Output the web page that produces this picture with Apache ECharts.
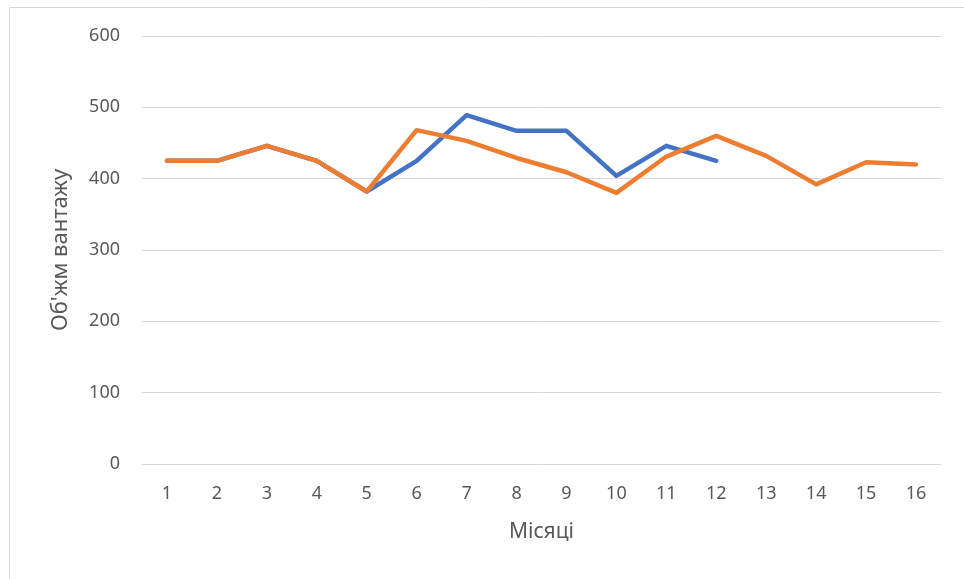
<!DOCTYPE html>
<html>
<head>
<meta charset="utf-8">
<script src="https://cdn.jsdelivr.net/npm/echarts@6/dist/echarts.min.js"></script>
<style>html,body{margin:0;padding:0;background:#fff}#c{width:964px;height:579px}</style>
</head>
<body>
<div id="c"></div>
<script>
var months = ['1','2','3','4','5','6','7','8','9','10','11','12','13','14','15','16'];
var seriesBlue = [425, 425, 446, 425, 382, 425, 489, 467, 467, 404, 446, 425];
var seriesOrange = [425, 425, 446, 425, 382, 468, 453, 429, 409, 380, 431, 460, 432, 392, 423, 420];
var yTicks = { min: 0, max: 600, interval: 100 };

var chart = echarts.init(document.getElementById('c'));
chart.setOption({
  animation: false,
  backgroundColor: '#fff',
  graphic: [{
    type: 'rect', silent: true,
    shape: { x: 9.5, y: 7.5, width: 1000, height: 600 },
    style: { fill: 'none', stroke: '#d9d9d9', lineWidth: 1 }
  }],
  grid: { left: 142, right: 23, top: 36, bottom: 115 },
  xAxis: {
    type: 'category',
    data: months,
    boundaryGap: true,
    name: 'Місяці',
    nameLocation: 'middle',
    nameGap: 58,
    nameTextStyle: { color: '#595959', fontSize: 21, fontFamily: 'Noto Sans, sans-serif' },
    axisLine: { show: false },
    axisTick: { show: false },
    axisLabel: { color: '#595959', fontSize: 18, margin: 21, fontFamily: 'Noto Sans, sans-serif' },
    splitLine: { show: false }
  },
  yAxis: {
    type: 'value',
    min: yTicks.min, max: yTicks.max, interval: yTicks.interval,
    name: "Об'жм вантажу",
    nameLocation: 'middle',
    nameGap: 70,
    nameTextStyle: { color: '#595959', fontSize: 22, fontFamily: 'Noto Sans, sans-serif' },
    axisLine: { show: false },
    axisTick: { show: false },
    axisLabel: { color: '#595959', fontSize: 18, margin: 22, fontFamily: 'Noto Sans, sans-serif' },
    splitLine: { lineStyle: { color: '#d9d9d9', width: 1 } }
  },
  series: [
    { type: 'line', data: seriesBlue, symbol: 'none', lineStyle: { color: '#4472C4', width: 4.5, cap: 'round', join: 'round' }, itemStyle: { color: '#4472C4' }, z: 2 },
    { type: 'line', data: seriesOrange, symbol: 'none', lineStyle: { color: '#ED7D31', width: 4.5, cap: 'round', join: 'round' }, itemStyle: { color: '#ED7D31' }, z: 3 }
  ]
});
</script>
</body>
</html>
